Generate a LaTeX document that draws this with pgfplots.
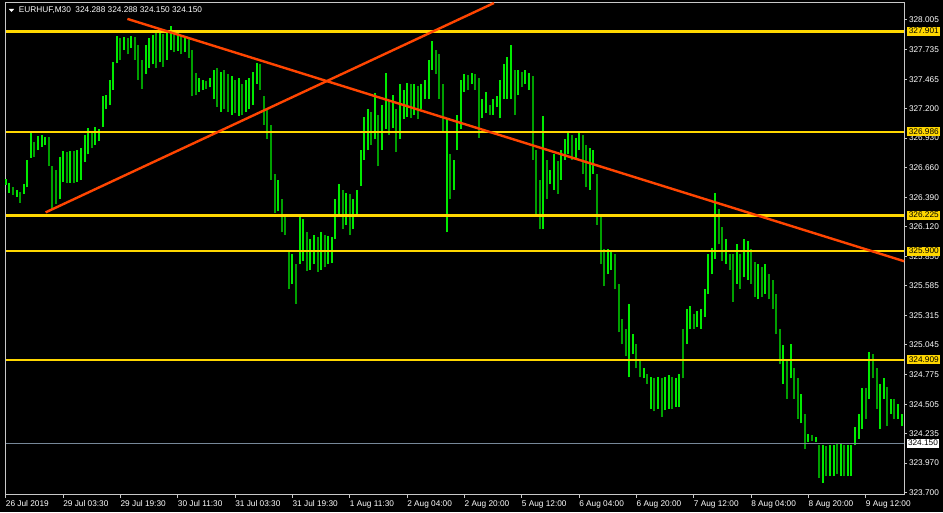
\documentclass[border=0pt]{standalone}
\usepackage{fontspec}
\setmainfont{Liberation Sans}
\usepackage{xcolor}
\usepackage{pgfplots}
\usepackage{pgfplotstable}
\pgfplotsset{compat=1.18}

\definecolor{barup}{RGB}{0,235,0}
\definecolor{bardn}{RGB}{0,160,0}
\definecolor{level}{RGB}{255,215,0}
\definecolor{trend}{RGB}{255,69,0}
\definecolor{frame}{RGB}{200,200,200}
\definecolor{bidline}{RGB}{119,136,153}

% EURHUF M30, one row per hour: low, high, down-bar flag
\pgfplotstableread{
l h d
326.50 326.56 0
326.43 326.52 0
326.41 326.48 1
326.39 326.46 0
326.34 326.44 1
326.42 326.51 0
326.48 326.73 0
326.75 326.98 0
326.76 326.89 1
326.82 326.95 0
326.85 326.96 0
326.87 326.94 0
326.67 326.94 1
326.27 326.67 1
326.33 326.64 1
326.37 326.76 0
326.53 326.81 0
326.52 326.80 1
326.52 326.81 0
326.52 326.81 1
326.53 326.82 0
326.55 326.84 0
326.71 326.96 0
326.78 327.02 0
326.84 326.99 1
326.87 327.03 0
326.90 327.01 0
327.03 327.31 0
327.19 327.32 0
327.23 327.46 0
327.37 327.62 0
327.61 327.86 0
327.64 327.84 1
327.73 327.85 0
327.69 327.84 1
327.75 327.86 0
327.64 327.85 1
327.46 327.78 1
327.38 327.64 1
327.51 327.78 0
327.57 327.84 0
327.60 327.87 0
327.57 327.89 1
327.62 327.90 0
327.58 327.88 1
327.64 327.91 0
327.73 327.95 0
327.71 327.91 1
327.72 327.90 0
327.69 327.87 1
327.71 327.85 0
327.66 327.84 1
327.31 327.73 1
327.32 327.52 1
327.35 327.48 0
327.37 327.46 0
327.38 327.45 1
327.39 327.48 0
327.28 327.55 0
327.21 327.57 1
327.17 327.53 0
327.19 327.55 1
327.17 327.51 1
327.14 327.49 0
327.16 327.46 1
327.13 327.48 0
327.14 327.42 1
327.17 327.46 0
327.19 327.48 0
327.23 327.53 0
327.42 327.61 0
327.37 327.60 1
327.05 327.31 1
326.92 327.19 1
326.55 327.05 1
326.25 326.60 1
326.26 326.55 0
326.07 326.37 1
326.05 326.23 1
325.55 325.89 1
325.60 325.87 0
325.42 325.78 1
325.78 326.22 0
325.81 326.19 0
325.72 326.07 1
325.73 326.01 0
325.78 326.05 0
325.71 326.03 1
325.73 326.07 0
325.75 326.05 1
325.78 326.04 0
325.79 326.03 0
326.01 326.37 0
326.22 326.51 0
326.10 326.46 1
326.14 326.43 0
326.05 326.42 1
326.10 326.37 0
326.23 326.46 0
326.49 326.82 0
326.73 327.12 0
326.82 327.19 0
326.87 327.17 1
326.92 327.34 0
326.67 327.14 1
326.82 327.23 0
327.01 327.52 0
326.96 327.28 1
327.02 327.32 0
326.80 327.19 1
326.92 327.42 0
327.10 327.37 0
327.12 327.43 0
327.11 327.42 1
327.14 327.42 0
327.10 327.40 1
327.19 327.42 0
327.28 327.46 0
327.28 327.64 0
327.55 327.81 0
327.51 327.73 1
327.28 327.69 1
326.98 327.42 1
326.07 327.10 0
326.37 326.78 1
326.46 326.73 0
326.82 327.14 0
327.01 327.46 0
327.35 327.51 0
327.37 327.50 1
327.42 327.52 0
327.37 327.51 1
326.93 327.48 1
327.11 327.28 0
327.16 327.35 0
327.14 327.23 1
327.14 327.28 0
327.21 327.31 0
327.11 327.46 0
327.28 327.60 0
327.28 327.67 0
327.28 327.78 0
327.14 327.55 1
327.32 327.55 0
327.39 327.53 1
327.42 327.55 0
327.37 327.52 0
326.73 327.49 1
326.23 326.82 1
326.10 326.55 1
326.10 327.13 0
326.37 326.73 1
326.51 326.64 0
326.46 326.78 0
326.42 326.72 1
326.55 326.82 0
326.73 326.92 0
326.78 326.98 0
326.73 326.96 1
326.75 326.93 0
326.82 326.98 0
326.60 326.96 1
326.48 326.87 1
326.46 326.84 0
326.60 326.82 0
326.14 326.60 1
325.78 326.23 1
325.58 325.92 1
325.69 325.92 0
325.73 325.90 0
325.55 325.87 1
325.16 325.60 1
325.05 325.28 1
324.94 325.19 1
324.75 325.42 0
324.96 325.14 0
324.83 325.05 1
324.75 324.92 1
324.74 324.83 0
324.69 324.78 1
324.46 324.75 0
324.44 324.74 1
324.46 324.75 0
324.39 324.74 1
324.45 324.75 0
324.46 324.77 0
324.46 324.75 1
324.48 324.74 0
324.48 324.78 0
324.74 325.19 1
325.05 325.37 0
325.19 325.40 0
325.19 325.33 1
325.21 325.35 0
325.19 325.37 0
325.30 325.55 0
325.51 325.87 0
325.69 325.93 0
325.83 326.43 0
325.96 326.28 1
325.81 326.12 1
325.78 326.01 0
325.73 325.87 1
325.44 325.87 1
325.60 325.96 0
325.55 325.87 1
325.66 326.01 0
325.64 325.99 0
325.60 325.92 1
325.48 325.80 1
325.46 325.78 0
325.48 325.75 1
325.51 325.78 0
325.46 325.69 1
325.37 325.64 1
325.14 325.51 1
324.87 325.19 1
324.69 325.04 0
324.55 324.92 1
324.74 325.05 0
324.55 324.83 1
324.37 324.74 1
324.33 324.60 0
324.10 324.42 1
324.16 324.23 0
324.17 324.22 1
324.16 324.21 0
323.83 324.13 1
323.79 324.13 0
323.85 324.12 1
323.85 324.13 0
323.85 324.13 0
323.87 324.14 1
323.85 324.14 0
323.85 324.13 1
323.85 324.13 0
323.85 324.13 0
324.13 324.30 0
324.19 324.42 0
324.28 324.65 0
324.37 324.65 1
324.55 324.98 0
324.74 324.96 1
324.46 324.83 1
324.28 324.69 0
324.55 324.74 0
324.31 324.66 1
324.42 324.55 0
324.37 324.55 1
324.37 324.51 0
324.31 324.42 0
}\bars

\tikzset{
  pricebox/.style={anchor=west, xshift=2pt, text=black, inner xsep=1.5pt,
    inner ysep=1pt, text height=6pt, text depth=1pt,
    font=\fontsize{8.3}{10}\selectfont},
}

\begin{document}
\pagecolor{black}
\begin{tikzpicture}[x=1pt, y=1pt, font=\fontsize{8.3}{10}\selectfont]
\begin{axis}[
  at={(0,0)}, anchor=south west, scale only axis,
  width=901pt, height=493pt,
  xmin=0, xmax=501.4, ymin=323.682, ymax=328.159,
  set layers=standard, clip=false,
  axis line style={frame, line width=1pt},
  tick style={frame, line width=0.8pt},
  tick align=outside, major tick length=3pt,
  xtick pos=bottom, ytick pos=right, yticklabel pos=right,
  xtick={0,32,...,480},
  xticklabels={26 Jul 2019, 29 Jul 03:30, 29 Jul 19:30, 30 Jul 11:30,
    31 Jul 03:30, 31 Jul 19:30, 1 Aug 11:30, 2 Aug 04:00, 2 Aug 20:00,
    5 Aug 12:00, 6 Aug 04:00, 6 Aug 20:00, 7 Aug 12:00, 8 Aug 04:00,
    8 Aug 20:00, 9 Aug 12:00},
  ytick={323.700,323.970,324.235,324.505,324.775,325.045,325.315,325.585,
    325.850,326.120,326.390,326.660,326.930,327.200,327.465,327.735,328.005},
  yticklabels={323.700,323.970,324.235,324.505,324.775,325.045,325.315,325.585,
    325.850,326.120,326.390,326.660,326.930,327.200,327.465,327.735,328.005},
  ticklabel style={text=white, font=\fontsize{8.3}{10}\selectfont},
  xticklabel style={anchor=north west, inner sep=0pt, yshift=-2.7pt},
  yticklabel style={anchor=west, inner sep=0pt, xshift=1.7pt},
]
% hourly bars, high-low ranges
\addplot[barup, line width=2pt, -, quiver={u=0, v=\thisrow{h}-\thisrow{l}},
  restrict expr to domain={\thisrow{d}}{0:0}]
  table[x expr=2*\coordindex, y=l] {\bars};
\addplot[bardn, line width=2pt, -, quiver={u=0, v=\thisrow{h}-\thisrow{l}},
  restrict expr to domain={\thisrow{d}}{1:1}]
  table[x expr=2*\coordindex, y=l] {\bars};

% current bid
\addplot[bidline, line width=0.8pt] coordinates {(0,324.150) (501.4,324.150)}
  node[pos=1, pricebox, fill=white] {324.150};

% horizontal levels
\addplot[level, line width=2.4pt] coordinates {(0,327.901) (501.4,327.901)}
  node[pos=1, pricebox, fill=level] {327.901};
\addplot[level, line width=2.4pt] coordinates {(0,326.986) (501.4,326.986)}
  node[pos=1, pricebox, fill=level] {326.986};
\addplot[level, line width=2.4pt] coordinates {(0,326.225) (501.4,326.225)}
  node[pos=1, pricebox, fill=level] {326.225};
\addplot[level, line width=2.4pt] coordinates {(0,325.900) (501.4,325.900)}
  node[pos=1, pricebox, fill=level] {325.900};
\addplot[level, line width=2.4pt] coordinates {(0,324.909) (501.4,324.909)}
  node[pos=1, pricebox, fill=level] {324.909};

% trend lines
\addplot[trend, line width=2.4pt] coordinates {(22.26,326.252) (272.5,328.159)};
\addplot[trend, line width=2.4pt] coordinates {(67.9,328.014) (501.4,325.807)};
\end{axis}
\fill[white] (3,487) -- (8.5,487) -- (5.75,484) -- cycle;
\node[anchor=west, text=white, inner sep=0pt] at (13,486)
  {EURHUF,M30\ \ 324.288 324.288 324.150 324.150};
\pgfresetboundingbox
\useasboundingbox (-3,-18) rectangle (940,496);
\end{tikzpicture}
\end{document}
